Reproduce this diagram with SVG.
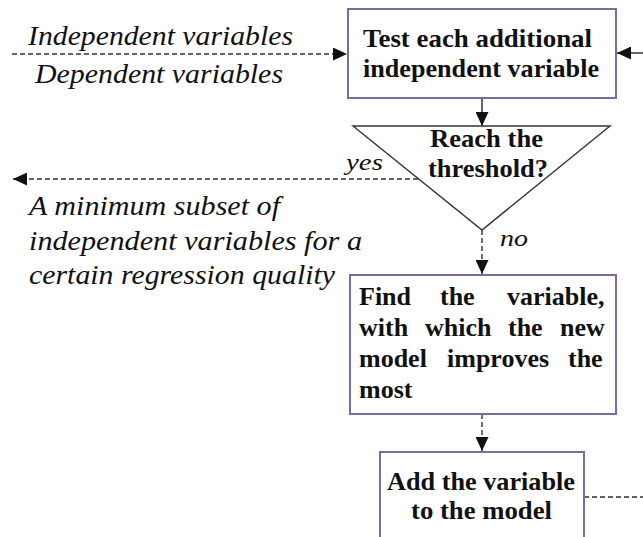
<svg xmlns="http://www.w3.org/2000/svg" width="643" height="537" viewBox="0 0 643 537">
<style>
.box{fill:#fff;stroke:#7f6a9b;stroke-width:2}
.tri{fill:#fff;stroke:#333;stroke-width:1.4}
.b{font-family:"Liberation Serif","Times New Roman",serif;font-weight:bold;font-size:26px;fill:#111}
.i{font-family:"Liberation Serif","Times New Roman",serif;font-style:italic;font-size:27px;fill:#111}
.sm{font-size:23px}
.solid{stroke:#222;stroke-width:1.4;fill:none}
.dash{stroke:#333;stroke-width:1.4;fill:none;stroke-dasharray:5,3}
</style>
<defs>
<marker id="ah" markerUnits="userSpaceOnUse" markerWidth="15" markerHeight="13" refX="14" refY="6.5" orient="auto">
<path d="M0,0 L14,6.5 L0,13 z" fill="#111"/>
</marker>
</defs>
<g id="connectors">
<line class="dash" x1="12" y1="54" x2="347" y2="54" marker-end="url(#ah)"/>
<line class="solid" x1="643" y1="53" x2="617" y2="53" marker-end="url(#ah)"/>
<line class="solid" x1="482" y1="98" x2="482" y2="126" marker-end="url(#ah)"/>
<line class="dash" x1="418" y1="179" x2="13" y2="179" marker-end="url(#ah)"/>
<line class="dash" x1="482" y1="230" x2="482" y2="274" marker-end="url(#ah)"/>
<line class="dash" x1="482" y1="414" x2="482" y2="451" marker-end="url(#ah)"/>
<line class="dash" x1="584" y1="497" x2="643" y2="497"/>
</g>
<g id="input-labels">
<text class="i" x="28" y="45" textLength="265" lengthAdjust="spacingAndGlyphs">Independent variables</text>
<text class="i" x="35" y="83" textLength="248" lengthAdjust="spacingAndGlyphs">Dependent variables</text>
</g>
<g id="test">
<rect class="box" x="348" y="9" width="268" height="89"/>
<text class="b" x="363" y="47" textLength="229" lengthAdjust="spacingAndGlyphs">Test each additional</text>
<text class="b" x="363" y="77" textLength="236" lengthAdjust="spacingAndGlyphs">independent variable</text>
</g>
<g id="threshold">
<polygon class="tri" points="353,126 610,126 482,230"/>
<text class="b" x="430" y="147" textLength="113" lengthAdjust="spacingAndGlyphs">Reach the</text>
<text class="b" x="428" y="177" textLength="120" lengthAdjust="spacingAndGlyphs">threshold?</text>
<text class="i sm" x="346" y="170" textLength="37" lengthAdjust="spacingAndGlyphs">yes</text>
<text class="i sm" x="500" y="246" textLength="28" lengthAdjust="spacingAndGlyphs">no</text>
</g>
<g id="output-label">
<text class="i" x="29" y="215" textLength="251" lengthAdjust="spacingAndGlyphs">A minimum subset of</text>
<text class="i" x="29" y="250" textLength="333" lengthAdjust="spacingAndGlyphs">independent variables for a</text>
<text class="i" x="29" y="284" textLength="306" lengthAdjust="spacingAndGlyphs">certain regression quality</text>
</g>
<g id="find">
<rect class="box" x="350" y="275" width="266" height="139"/>
<text class="b" y="305"><tspan x="359">Find</tspan><tspan x="440">the</tspan><tspan x="507">variable,</tspan></text>
<text class="b" y="336"><tspan x="359">with</tspan><tspan x="425">which</tspan><tspan x="508">the</tspan><tspan x="560">new</tspan></text>
<text class="b" y="367"><tspan x="359">model</tspan><tspan x="447">improves</tspan><tspan x="568">the</tspan></text>
<text class="b" x="359" y="398">most</text>
</g>
<g id="add">
<rect class="box" x="380" y="452" width="204" height="100"/>
<text class="b" x="387" y="490" textLength="188" lengthAdjust="spacingAndGlyphs">Add the variable</text>
<text class="b" x="411" y="519" textLength="141" lengthAdjust="spacingAndGlyphs">to the model</text>
</g>
</svg>
